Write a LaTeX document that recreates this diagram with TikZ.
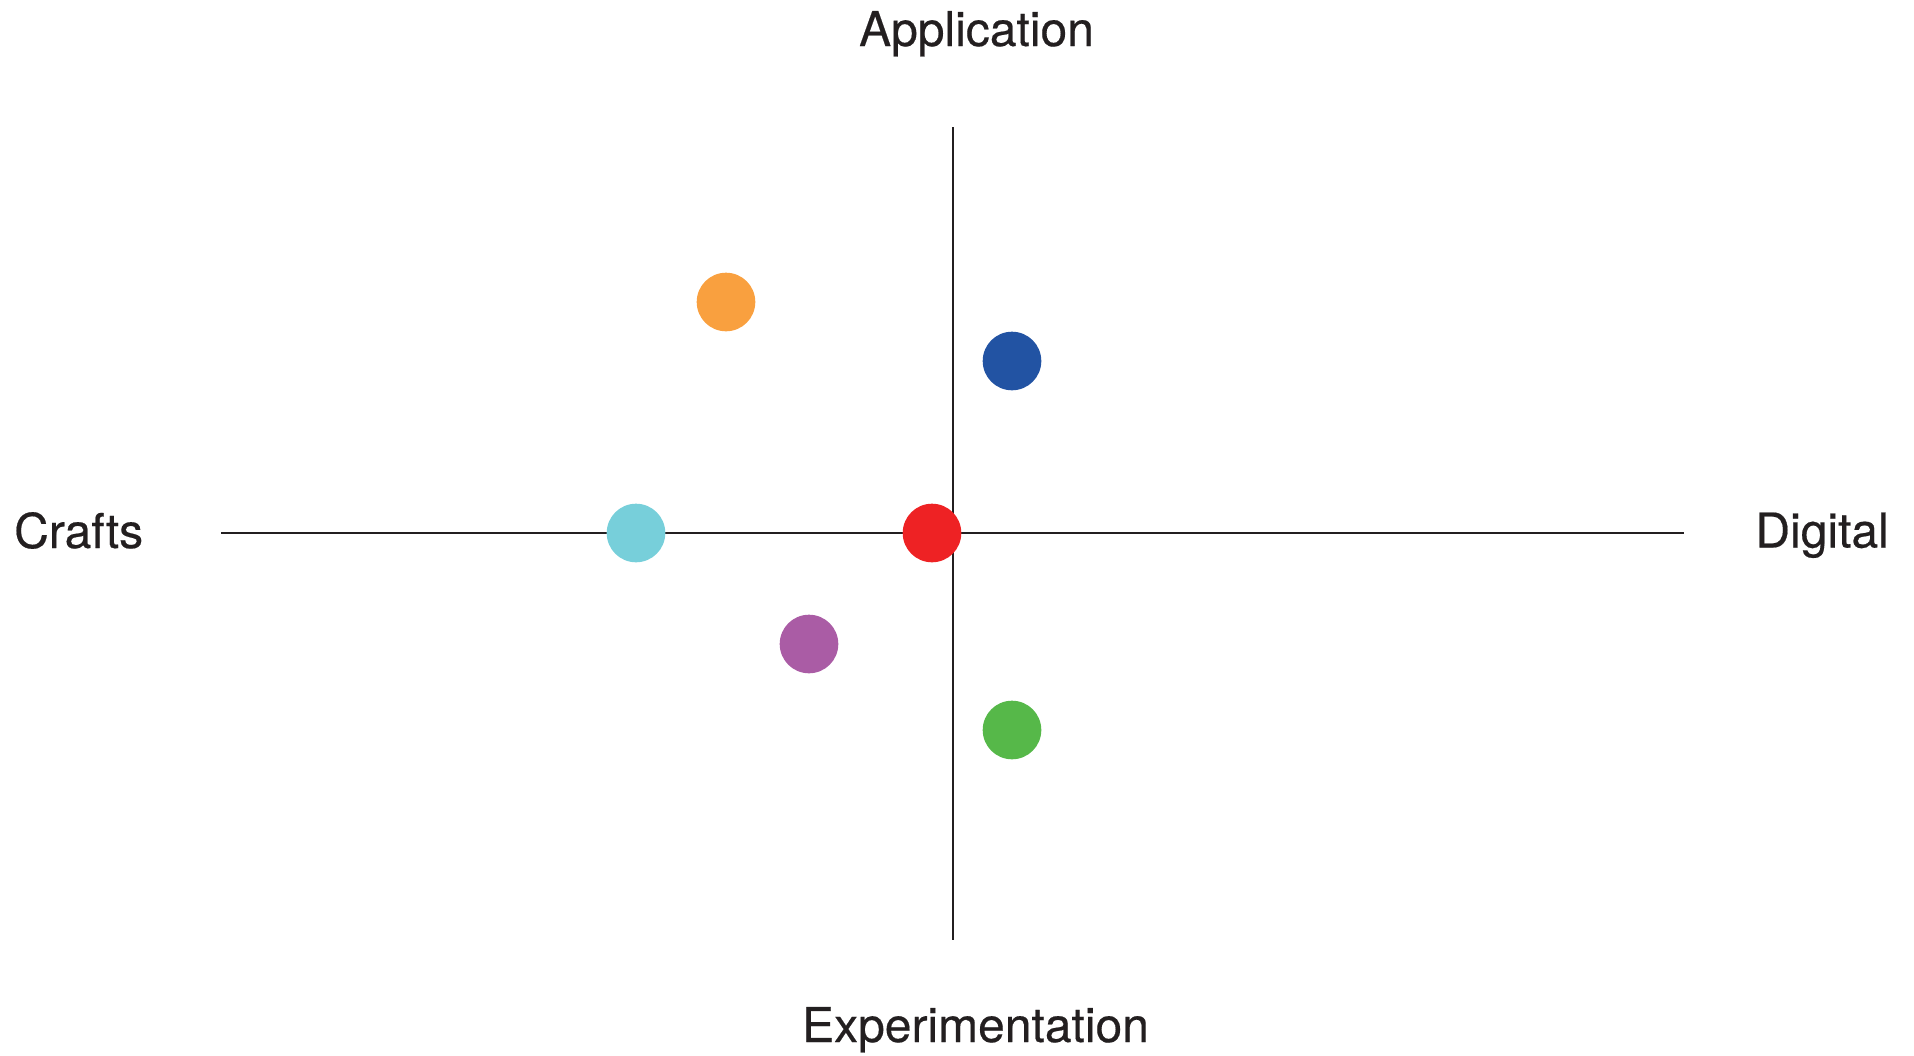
\documentclass[tikz,border=0pt]{standalone}
\usepackage{fontspec}
\setmainfont{TeX Gyre Heros}[FakeBold=0.4]
\definecolor{axisc}{HTML}{231F20}
\definecolor{dotorange}{HTML}{F9A03F}
\definecolor{dotblue}{HTML}{2253A3}
\definecolor{dotcyan}{HTML}{77CFDA}
\definecolor{dotred}{HTML}{EE2224}
\definecolor{dotpurple}{HTML}{AA5CA5}
\definecolor{dotgreen}{HTML}{56B849}
\begin{document}
\begin{tikzpicture}[x=1pt,y=-1pt,
  axisline/.style={draw=axisc,line width=2.6pt},
  dot/.style={circle,inner sep=0pt,minimum size=58.6pt,draw=none},
  lbl/.style={inner sep=0pt,font=\fontsize{48}{57}\selectfont,text=axisc}]
\useasboundingbox (0,0) rectangle (1914,1055);
\coordinate (top) at (953,127);
\coordinate (bot) at (953,940);
\coordinate (left) at (221,533);
\coordinate (right) at (1684,533);
\draw[axisline] (top) -- (bot);
\draw[axisline] (left) -- (right);
\node[dot,fill=dotorange] (orange) at (726,302) {};
\node[dot,fill=dotblue] (blue) at (1012,361) {};
\node[dot,fill=dotcyan] (cyan) at (636,533) {};
\node[dot,fill=dotred] (red) at (932,533) {};
\node[dot,fill=dotpurple] (purple) at (809,644) {};
\node[dot,fill=dotgreen] (green) at (1012,730) {};
\node[lbl,anchor=base] (app) at (976.5,46) {Application};
\node[lbl,anchor=base] (exp) at (975.5,1042) {Experimentation};
\node[lbl,anchor=base west] (crafts) at (14,548) {Crafts};
\node[lbl,anchor=base east] (digital) at (1889,547.5) {Digital};
\end{tikzpicture}
\end{document}
